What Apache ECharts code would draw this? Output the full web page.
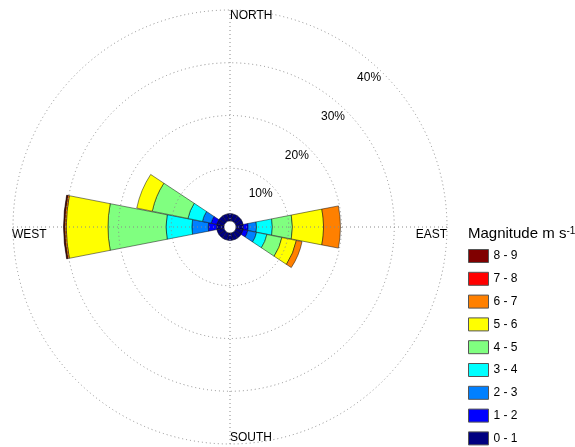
<!DOCTYPE html>
<html><head><meta charset="utf-8">
<script src="https://cdn.jsdelivr.net/npm/echarts@6/dist/echarts.min.js"></script>
<style>html,body{margin:0;padding:0;background:#fff}#c{width:575px;height:447px}</style>
</head><body><div id="c"></div>
<script>
// ---- data ----
const directions = ['N','NNE','NE','ENE','E','ESE','SE','SSE','S','SSW','SW','WSW','W','WNW','NW','NNW'];
const speedBins = ['0 - 1','1 - 2','2 - 3','3 - 4','4 - 5','5 - 6','6 - 7','7 - 8','8 - 9'];
const binColors = ['#000080','#0000FF','#0080FF','#00FFFF','#80FF80','#FFFF00','#FF8000','#FF0000','#800000'];
// frequency (%) per direction for each speed bin
const freq0_1 = [1.4,1.4,1.4,1.4,1.4,1.4,1.4,1.4,1.4,1.4,1.4,1.4,1.4,1.4,1.4,1.4];
const freq1_2 = [0,0,0,0,0.9,0.9,0,0,0,0,0,0,1.6,1.1,0,0];
const freq2_3 = [0,0,0,0,1.6,1.7,0,0,0,0,0,0,3.1,1.7,0,0];
const freq3_4 = [0,0,0,0,3.0,2.0,0,0,0,0,0,0,4.9,2.8,0,0];
const freq4_5 = [0,0,0,0,3.8,2.9,0,0,0,0,0,0,11.0,6.9,0,0];
const freq5_6 = [0,0,0,0,5.9,2.8,0,0,0,0,0,0,7.9,3.0,0,0];
const freq6_7 = [0,0,0,0,3.2,1.1,0,0,0,0,0,0,0.3,0,0,0];
const freq7_8 = [0,0,0,0,0,0,0,0,0,0,0,0,0.1,0,0,0];
const freq8_9 = [0,0,0,0,0,0,0,0,0,0,0,0,0.12,0,0,0];
const radiusTicks = [10,20,30,40];
const compassLabels = ['NORTH','EAST','SOUTH','WEST'];
const legendTitle = 'Magnitude m s';
const legendTitleSup = '-1';

const allFreq = [freq0_1,freq1_2,freq2_3,freq3_4,freq4_5,freq5_6,freq6_7,freq7_8,freq8_9];

// ---- layout ----
const CX = 230, CY = 227, R_IN = 6, R_OUT = 217;
const FONT = '"Liberation Sans", Arial, sans-serif';
const dotted = {color:'#8a8a8a', type:[1,3], width:1};

const chart = echarts.init(document.getElementById('c'), null, {renderer:'canvas'});

const series = speedBins.map((name,i)=>({
  name, type:'bar', coordinateSystem:'polar', polarIndex:0, stack:'total',
  barCategoryGap:'2%',
  data: allFreq[i].map(v => v > 0 ? v : null),
  itemStyle:{color:binColors[i], borderColor:'rgba(0,0,0,0.6)', borderWidth:0.8},
  emphasis:{disabled:true}, animation:false
}));

chart.setOption({
  animation:false,
  polar:[
    {center:[CX,CY], radius:[R_IN,R_OUT]},
    {center:[CX,CY], radius:[R_IN,R_OUT]},
    {center:[CX,CY], radius:[0,204]}
  ],
  angleAxis:[
    {polarIndex:0, type:'category', data:directions, startAngle:90+11.25, clockwise:true, boundaryGap:true, show:false},
    {polarIndex:1, type:'value', min:0, max:360, interval:90, startAngle:90, clockwise:true, z:10,
      axisLine:{show:false}, axisTick:{show:false}, axisLabel:{show:false},
      splitLine:{show:true, lineStyle:dotted}},
    {polarIndex:2, type:'value', min:0, max:360, startAngle:47, show:false}
  ],
  radiusAxis:[
    {polarIndex:0, type:'value', min:0, max:40, show:false},
    {polarIndex:1, type:'value', min:0, max:40, interval:10, z:10,
      axisLine:{show:false}, axisTick:{show:false}, axisLabel:{show:false},
      splitLine:{show:true, showMinLine:false, lineStyle:dotted}},
    {polarIndex:2, type:'value', min:1.51, max:40, z:10,
      axisLine:{show:false}, axisTick:{show:false}, splitLine:{show:false},
      axisLabel:{customValues:radiusTicks, formatter:'{value}%', margin:0, rotate:0,
        align:'center', verticalAlign:'middle', fontSize:12, color:'#000', fontFamily:FONT}}
  ],
  legend:{
    orient:'vertical', left:468, top:249, height:200, padding:0,
    itemWidth:20, itemHeight:13, itemGap:8.8,
    data: speedBins.slice().reverse(), icon:'rect', selectedMode:false,
    itemStyle:{borderColor:'#555', borderWidth:1},
    textStyle:{fontSize:12, color:'#000', fontFamily:FONT}
  },
  graphic:[
    {type:'text', x:CX, y:CY-R_OUT+6, style:{text:compassLabels[0], fontSize:12, fontFamily:FONT, fill:'#000', align:'left', verticalAlign:'middle'}},
    {type:'text', x:CX+R_OUT, y:CY+8, style:{text:compassLabels[1], fontSize:12, fontFamily:FONT, fill:'#000', align:'right', verticalAlign:'middle'}},
    {type:'text', x:CX, y:CY+R_OUT-6, style:{text:compassLabels[2], fontSize:12, fontFamily:FONT, fill:'#000', align:'left', verticalAlign:'middle'}},
    {type:'text', x:CX-R_OUT-1, y:CY+8, style:{text:compassLabels[3], fontSize:12, fontFamily:FONT, fill:'#000', align:'left', verticalAlign:'middle'}},
    {type:'text', x:468, y:234, style:{
      text:'{a|'+legendTitle+'}{b|'+legendTitleSup+'}', fill:'#000', align:'left', verticalAlign:'middle',
      rich:{a:{fontSize:15, fontFamily:FONT, fill:'#000'}, b:{fontSize:10, fontFamily:FONT, fill:'#000', verticalAlign:'top'}}}}
  ],
  series
});
</script></body></html>
